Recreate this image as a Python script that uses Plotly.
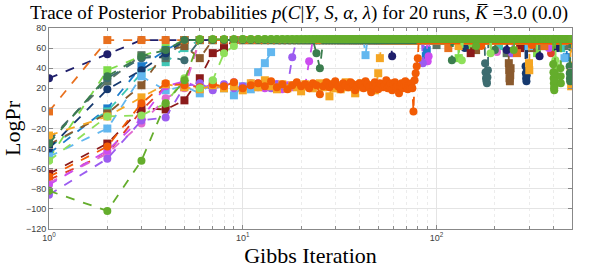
import plotly.graph_objects as go

N_ITER = 500

RUN_COLORS = ["#7fdc4a", "#1c7ccc", "#3fc7b5", "#5c7564", "#8a5a2e",
              "#3d6c70", "#16396e", "#e0402a", "#8b1a1a", "#62b7ef",
              "#e06ad0", "#cc4cf0", "#9b5cf0", "#f5a623", "#1f1f6b",
              "#e8701e", "#3b7d4e", "#f25c05", "#8fe05a", "#64ad2c"]

RUN_SYMBOLS = ["square", "square", "square", "square", "square",
               "circle", "circle", "circle", "square", "square",
               "circle", "circle", "circle", "square", "circle",
               "square", "circle", "circle", "circle", "circle"]

# LogPr for the first iterations of each run (iteration 1, 2, 3, ...)
START_VALUES = [
    [-50, 38, 52, 60],
    [-45, 0, 42, 58],
    [-38, -3, 35, 46, 60],
    [-31, 27, 53, 50],
    [-36, -5, 23, 57, 62, 50],
    [-33, 30, 50, 52, 48],
    [-40, 19, 38, 55],
    [-71, -45, -2, 22, 25],
    [-65, -35, 0, -1, 8, 30, 55, 60],
    [-48, -20, 32, 18, 22, 15, 26, 20, 13, 22, 19, 36, 45, 56],
    [-74, -45, -15, 10, 20],
    [-76, -42, -10, 22, 27, 20, 24, 22, 26, 21, 23, 25, 20, 22, 24, 19,
     23, 21, 25, 22, 23, 47],
    [-86, -50, -12, -9, 22, 25, 18, 24, 20, 22, 25, 21, 23, 20, 24, 22,
     21, 51],
    [-27, -8, 11, 24, 21, 19, 23, 20, 22, 18, 25, 21, 28, 22, 19, 24, 20,
     23, 21, 17, 24, 22, 20, 23, 25, 21, 22, 12, 24, 20, 23, 19, 22, 26,
     21, 24, 22, 15, 23, 21, 25, 22, 24, 21, 23, 20, 22, 18, 24, 35, 50],
    [30, 54],
    [-3],
    [-35, 32, 52, 58],
    [-68, -38, 5, 25, 23, 21, 24, 22, 26, 20, 23, 25, 22, 27, 21, 24, 19,
     23, 26, 22, 24, 20, 25, 23, 14, 22, 26, 21, 24, 27, 22, 19, 25, 23,
     21, 26, 24, 18, 22, 25, 23, 20, 27, 24, 21, 16, 23, 26, 22, 19, 25,
     24, 21, 23, 28, 20, 22, 25, 18, 24, 26, 21, 23, 15, 22, 25, 20, 24,
     27, 22, 19, 23, 21, 25, 20, -3, 28, 35, 42, 50],
    [-52, -8, -7, 5, 30, 20, 28, 55, 62],
    [-82, -102, -52, 5, 28],
]

# converged LogPr level of each run
PLATEAU = [68, 68, 68, 68, 68, 68, 68, 68, 68, 68,
           68, 68, 68, 68, 68, 68, 68, 68, 69, 69]

# temporary drops after convergence: (first iteration, [LogPr, ...])
DIPS = [
    [(130, [50]), (150, [60]), (330, [55])],
    [(88, [52, 58]), (470, [51]), (290, [62])],
    [(210, [62]), (440, [60])],
    [(100, [63]), (230, [55]), (350, [62]), (480, [62])],
    [(236, [45, 38, 30, 27, 33, 40]), (310, [60]), (160, [58])],
    [(178, [45, 36, 30, 27, 25, 31, 38])],
    [(288, [42, 35, 30, 27, 33, 39]), (140, [60])],
    [(200, [58]), (390, [55])],
    [(150, [55]), (270, [60])],
    [(43, [53]), (457, [50]), (300, [62])],
    [(205, [56])],
    [(90, [47, 52]), (380, [60])],
    [(85, [45]), (245, [55])],
    [(300, [45, 38]), (492, [40, 33, 28, 22, 30]), (130, [62])],
    [(59, [52]), (230, [58]), (340, [52]), (420, [60])],
    [(115, [60]), (260, [55]), (360, [62])],
    [(24, [55, 40]), (120, [48]), (200, [58]), (486, [42, 35, 30, 27])],
    [(170, [62]), (310, [63])],
    [(135, [48]), (190, [55]), (410, [48, 42])],
    [(400, [44, 36, 30, 25, 20, 18, 22, 28, 35]), (436, [40, 32, 25]),
     (160, [62]), (250, [58])],
]

X_TICK_VALS = [1, 10, 100]
X_TICK_TEXT = ["10<sup>0</sup>", "10<sup>1</sup>", "10<sup>2</sup>"]
X_MINOR_VALS = [2, 3, 4, 5, 6, 7, 8, 9, 20, 30, 40, 50, 60, 70, 80, 90,
                200, 300, 400, 500]

fig = go.Figure()
iters = list(range(1, N_ITER + 1))
for k in range(len(RUN_COLORS)):
    start = START_VALUES[k]
    y = list(start) + [PLATEAU[k]] * (N_ITER - len(start))
    for first, vals in DIPS[k]:
        for j, v in enumerate(vals):
            y[first - 1 + j] = v
    fig.add_trace(go.Scatter(
        x=iters, y=y, mode="lines+markers",
        line=dict(color=RUN_COLORS[k], width=1.8, dash="dash"),
        marker=dict(color=RUN_COLORS[k], size=8, symbol=RUN_SYMBOLS[k],
                    line=dict(width=0)),
        showlegend=False, hoverinfo="x+y"))

serif = "Liberation Serif, DejaVu Serif, serif"
tickfont = dict(family="Liberation Sans, Arial, sans-serif", size=9,
                color="#404040")

fig.update_layout(
    width=598, height=270,
    margin=dict(l=49, r=26, t=28, b=41),
    paper_bgcolor="white", plot_bgcolor="white",
    title=dict(
        text=("Trace of Posterior Probabilities <i>p</i>(<i>C</i>|<i>Y</i>, "
              "<i>S</i>, <i>α</i>, <i>λ</i>) for 20 runs, "
              "<i>K&#773;</i> =3.0 (0.0)"),
        x=0.5, xanchor="center", y=0.953, yanchor="middle", yref="container",
        font=dict(family=serif, size=19, color="black")),
)

fig.update_xaxes(
    type="log", range=[0, 2.69897], automargin=False,
    tickmode="array", tickvals=X_TICK_VALS, ticktext=X_TICK_TEXT,
    tickfont=tickfont, ticks="inside", ticklen=4, tickcolor="#888",
    showline=True, linecolor="#888", linewidth=1, mirror="ticks",
    showgrid=True, gridcolor="#e4e4e4", gridwidth=1,
    minor=dict(tickvals=X_MINOR_VALS, ticks="inside", ticklen=3,
               tickcolor="#888", showgrid=True, gridcolor="#ececec",
               griddash="dot"),
    zeroline=False,
    title=dict(text="Gibbs Iteration", font=dict(family=serif, size=22,
                                                  color="black"),
               standoff=2),
)
fig.update_yaxes(
    range=[-120, 80], tickmode="linear", tick0=-120, dtick=20,
    automargin=False,
    tickfont=tickfont, ticks="inside", ticklen=4, tickcolor="#888",
    showline=True, linecolor="#888", linewidth=1, mirror="ticks",
    showgrid=True, gridcolor="#e4e4e4", gridwidth=1, zeroline=False,
    title=dict(text="LogPr", font=dict(family=serif, size=22, color="black"),
               standoff=4),
)

fig.write_html("out.html",
               config={"displayModeBar": False},
               post_script="document.body.style.margin='0';"
                           "document.body.style.overflow='hidden';")
